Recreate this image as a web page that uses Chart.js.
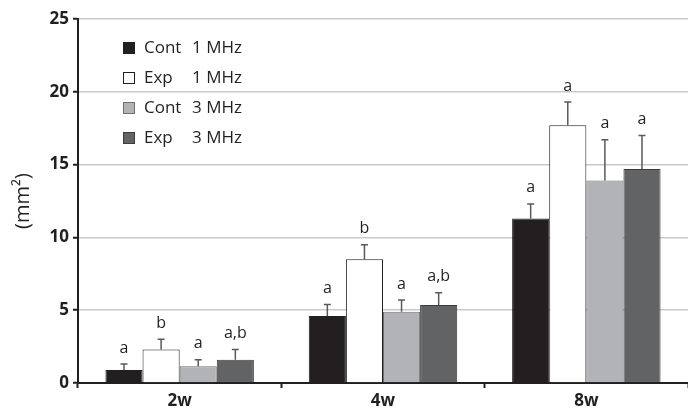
<!DOCTYPE html>
<html>
<head>
<meta charset="utf-8">
<script src="https://cdn.jsdelivr.net/npm/chart.js@4/dist/chart.umd.min.js"></script>
<style>
  html, body { margin: 0; padding: 0; background: #fff; }
  #wrap { width: 688px; height: 416px; }
</style>
</head>
<body>
<div id="wrap"><canvas id="chart" width="688" height="416"></canvas></div>
<script>
// --- data ---
const weeks = ['2w', '4w', '8w'];

const cont1 = [0.9, 4.6, 11.3];
const exp1 = [2.3, 8.5, 17.7];
const cont3 = [1.15, 4.9, 13.9];
const exp3 = [1.6, 5.35, 14.7];

// upper error (SD) added on top of each bar
const cont1Err = [0.4, 0.8, 1.0];
const exp1Err = [0.7, 1.0, 1.6];
const cont3Err = [0.45, 0.8, 2.8];
const exp3Err = [0.7, 0.85, 2.3];

// significance letters
const cont1Sig = ['a', 'a', 'a'];
const exp1Sig = ['b', 'b', 'a'];
const cont3Sig = ['a', 'a', 'a'];
const exp3Sig = ['a,b', 'a,b', 'a'];

const yTicks = [0, 5, 10, 15, 20, 25];

const INK = '#231f20';
const FONT = '"Open Sans", "DejaVu Sans", sans-serif';

const series = [
    { label: 'Cont', freq: '1 MHz', data: cont1, err: cont1Err, sig: cont1Sig, bg: '#231f20', bd: '#231f20' },
    { label: 'Exp', freq: '1 MHz', data: exp1, err: exp1Err, sig: exp1Sig, bg: '#ffffff', bd: '#231f20' },
    { label: 'Cont', freq: '3 MHz', data: cont3, err: cont3Err, sig: cont3Sig, bg: '#b2b3b6', bd: '#6d6e70' },
    { label: 'Exp', freq: '3 MHz', data: exp3, err: exp3Err, sig: exp3Sig, bg: '#626365', bd: '#3c3c3e' }
];

// error bars (top cap only) + letters above them
const errorBarPlugin = {
    id: 'errorBars',
    afterDatasetsDraw(chart) {
        const ctx = chart.ctx;
        const y = chart.scales.y;
        ctx.save();
        chart.data.datasets.forEach((ds, di) => {
            const meta = chart.getDatasetMeta(di);
            meta.data.forEach((bar, i) => {
                const top = y.getPixelForValue(ds.data[i] + ds.err[i]);
                const base = bar.y;
                ctx.strokeStyle = '#58595b';
                ctx.lineWidth = 1.5;
                ctx.beginPath();
                ctx.moveTo(bar.x, base);
                ctx.lineTo(bar.x, top);
                ctx.moveTo(bar.x - 3.5, top);
                ctx.lineTo(bar.x + 3.5, top);
                ctx.stroke();

                ctx.fillStyle = INK;
                ctx.font = '16px ' + FONT;
                ctx.textAlign = 'center';
                ctx.textBaseline = 'bottom';
                ctx.fillText(ds.sig[i], bar.x, top - 8);
            });
        });
        ctx.restore();
    }
};

// legend drawn inside the plot area, top left
const insideLegend = {
    id: 'insideLegend',
    afterDraw(chart) {
        const ctx = chart.ctx;
        const area = chart.chartArea;
        const x0 = area.left + 46;
        const y0 = area.top + 29;
        const step = 30;
        ctx.save();
        ctx.font = '17px ' + FONT;
        ctx.textBaseline = 'middle';
        ctx.textAlign = 'left';
        chart.data.datasets.forEach((ds, i) => {
            const yy = y0 + i * step;
            ctx.fillStyle = ds.backgroundColor;
            ctx.strokeStyle = ds.borderColor;
            ctx.lineWidth = 1;
            ctx.fillRect(x0 - 0.5, yy - 5.5, 11, 11);
            ctx.strokeRect(x0 - 0.5, yy - 5.5, 11, 11);
            ctx.fillStyle = INK;
            ctx.fillText(ds.label, x0 + 20, yy);
            ctx.fillText(ds.freq, x0 + 68, yy);
        });
        ctx.restore();
    }
};

new Chart(document.getElementById('chart'), {
    type: 'bar',
    data: {
        labels: weeks,
        datasets: series.map(s => ({
            label: s.label,
            freq: s.freq,
            data: s.data,
            err: s.err,
            sig: s.sig,
            backgroundColor: s.bg,
            borderColor: s.bd,
            borderWidth: 1,
            categoryPercentage: 0.73,
            barPercentage: 1.0
        }))
    },
    options: {
        responsive: false,
        animation: false,
        layout: { padding: { top: 19, right: 0, left: 0, bottom: 0 } },
        plugins: {
            legend: { display: false },
            tooltip: { enabled: false }
        },
        scales: {
            x: {
                grid: {
                    offset: true,
                    drawOnChartArea: false,
                    drawTicks: true,
                    tickLength: 5,
                    tickColor: INK,
                    tickWidth: 2
                },
                border: { color: INK, width: 2 },
                ticks: {
                    color: INK,
                    font: { family: FONT, size: 17, weight: 'bold' },
                    padding: 3
                },
                afterFit(scale) { scale.height = 33; }
            },
            y: {
                min: 0,
                max: 25,
                afterBuildTicks(scale) {
                    scale.ticks = yTicks.map(v => ({ value: v }));
                },
                grid: {
                    color: '#c9c9c9',
                    lineWidth: 1.5,
                    drawTicks: true,
                    tickLength: 5,
                    tickColor: INK,
                    tickWidth: 2
                },
                border: { color: INK, width: 2 },
                ticks: {
                    color: INK,
                    font: { family: FONT, size: 17, weight: 'bold' },
                    padding: 4
                },
                title: {
                    display: true,
                    text: '(mm²)',
                    color: INK,
                    font: { family: FONT, size: 20 },
                    padding: { top: 11, bottom: 4 }
                },
                afterFit(scale) { scale.width = 78; }
            }
        }
    },
    plugins: [errorBarPlugin, insideLegend]
});
</script>
</body>
</html>
